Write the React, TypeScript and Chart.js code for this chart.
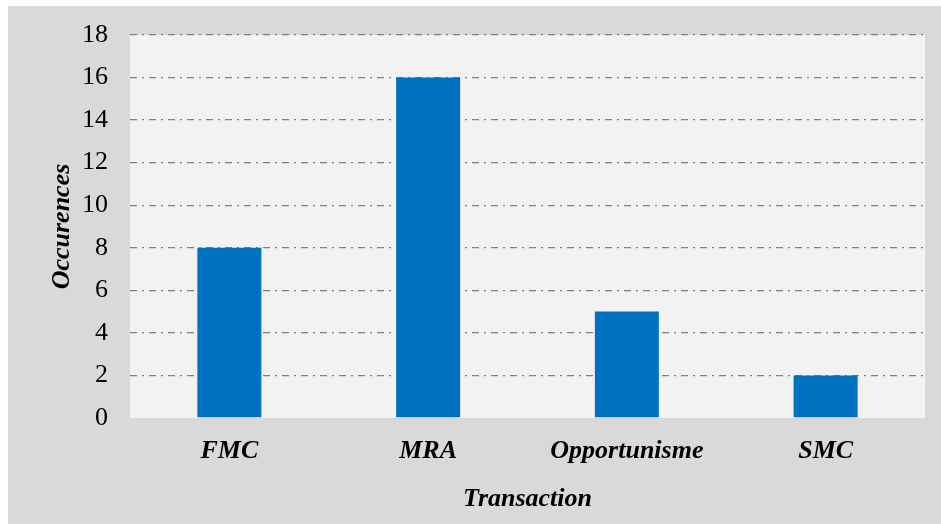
import React, { useEffect, useRef } from "react";
import { Chart, registerables } from "chart.js";

Chart.register(...registerables);

const categories = ["FMC", "MRA", "Opportunisme", "SMC"];
const occurrences = [8, 16, 5, 2];
const yTicks = { min: 0, max: 18, step: 2 };

const bgPlugin = {
  id: "bgPlugin",
  beforeDraw(chart: any) {
    const { ctx, chartArea } = chart;
    ctx.save();
    ctx.fillStyle = "#d9d9d9";
    ctx.fillRect(8, 6, chart.width - 8, chart.height - 6);
    ctx.fillStyle = "#f2f2f2";
    ctx.fillRect(chartArea.left, chartArea.top, chartArea.right - chartArea.left, chartArea.bottom - chartArea.top);
    ctx.restore();
  },
};

export default function App() {
  const ref = useRef<HTMLCanvasElement>(null);
  useEffect(() => {
    const font = "'Liberation Serif', 'Times New Roman', serif";
    const chart = new Chart(ref.current!, {
      type: "bar",
      data: {
        labels: categories,
        datasets: [
          {
            data: occurrences,
            backgroundColor: "#0070c0",
            categoryPercentage: 1,
            barPercentage: 0.322,
          },
        ],
      },
      options: {
        animation: false,
        responsive: false,
        maintainAspectRatio: false,
        layout: { padding: { left: 0, right: 16, top: 35, bottom: 0 } },
        plugins: { legend: { display: false }, tooltip: { enabled: false } },
        scales: {
          x: {
            grid: { display: false, drawTicks: false },
            border: { display: false },
            ticks: {
              color: "#000",
              padding: 18,
              font: { family: font, size: 26, weight: "bold", style: "italic" },
            },
            title: {
              display: true,
              text: "Transaction",
              color: "#000",
              padding: { top: 0, bottom: 12 },
              font: { family: font, size: 26, weight: "bold", style: "italic", lineHeight: 1 },
            },
            afterFit(scale: any) {
              scale.height = 106;
            },
          },
          y: {
            min: yTicks.min,
            max: yTicks.max,
            grid: {
              drawTicks: false,
              color: (c: any) => (c.tick && c.tick.value === 0 ? "rgba(0,0,0,0)" : "#7f7f7f"),
              lineWidth: 1.3,
            },
            border: { display: false, dash: [7, 5, 2, 5] },
            ticks: {
              stepSize: yTicks.step,
              color: "#000",
              padding: 22,
              font: { family: font, size: 26, lineHeight: 1 },
            },
            title: {
              display: true,
              text: "Occurences",
              color: "#000",
              padding: { top: 49, bottom: 0 },
              font: { family: font, size: 26, weight: "bold", style: "italic", lineHeight: 1 },
            },
            afterFit(scale: any) {
              scale.width = 130;
            },
          },
        },
      },
      plugins: [bgPlugin],
    });
    return () => chart.destroy();
  }, []);
  return (
    <canvas
      ref={ref}
      width={941}
      height={524}
      style={{ position: "fixed", left: 0, top: 0, width: 941, height: 524 }}
    />
  );
}
